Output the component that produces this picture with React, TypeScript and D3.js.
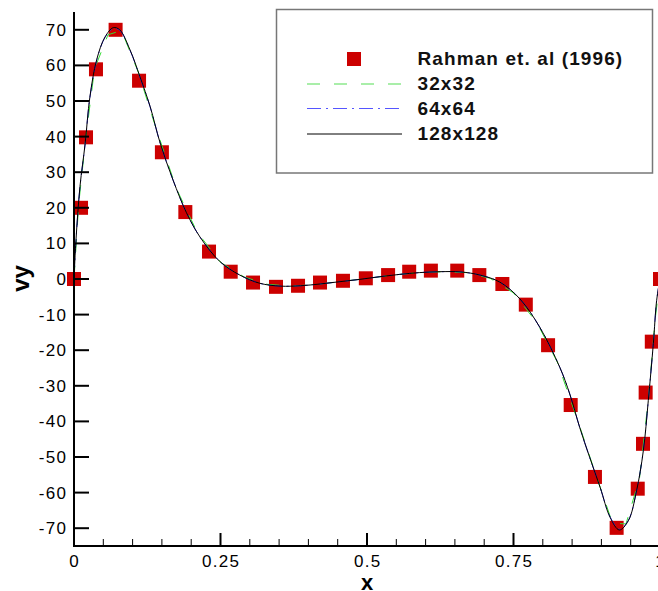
import React from "react";
import * as d3 from "d3";

// Reference data: Rahman et. al (1996)
const refX = [0, 0.012, 0.0205, 0.0375, 0.071, 0.111, 0.15, 0.19, 0.2304, 0.2674, 0.3055, 0.3447, 0.3823, 0.4198, 0.459, 0.498, 0.536, 0.572, 0.609, 0.654, 0.6917, 0.731, 0.771, 0.809, 0.8476, 0.889, 0.926, 0.962, 0.971, 0.9755, 0.986, 1.0];
const refY = [0, 20, 39.8, 58.9, 70, 55.7, 35.6, 18.8, 7.7, 2.05, -1.0, -2.2, -1.9, -1.0, -0.5, 0.2, 1.1, 2.05, 2.35, 2.35, 1.1, -1.4, -7.2, -18.6, -35.4, -55.6, -69.9, -58.9, -46.3, -31.9, -17.6, 0];

// 32x32
const g32X = [0, 0.008, 0.02, 0.035, 0.058, 0.081, 0.11, 0.14, 0.175, 0.21, 0.25, 0.29, 0.33, 0.37, 0.41, 0.45, 0.5, 0.55, 0.59, 0.63, 0.67, 0.71, 0.75, 0.79, 0.825, 0.86, 0.89, 0.919, 0.942, 0.965, 0.98, 0.992, 1];
const g32Y = [0, 21, 39.5, 59, 68.6, 69.8, 58, 42.3, 25.3, 13.2, 4.7, 0.6, -1.5, -2.0, -1.6, -0.8, 0.15, 1.2, 1.8, 2.05, 1.8, 0.2, -3.9, -12.3, -23.4, -40, -54.7, -68.6, -68.8, -56, -34, -11, 0];

// 64x64
const g64X = [0, 0.0034, 0.0102, 0.019, 0.027, 0.0387, 0.053, 0.067, 0.078, 0.0955, 0.1126, 0.13, 0.147, 0.169, 0.192, 0.215, 0.249, 0.283, 0.317, 0.352, 0.386, 0.42, 0.454, 0.488, 0.522, 0.556, 0.59, 0.6246, 0.659, 0.693, 0.727, 0.761, 0.795, 0.829, 0.846, 0.863, 0.88, 0.898, 0.915, 0.9306, 0.946, 0.96, 0.9716, 0.98, 0.9886, 0.9943, 1];
const g64Y = [0, 10.8, 25.8, 37.9, 50.8, 61.4, 67.9, 70.4, 69.9, 64.3, 56.7, 48.3, 38.2, 27.8, 18.6, 11.8, 4.9, 1.1, -1.2, -2.0, -1.9, -1.4, -0.75, -0.1, 0.65, 1.3, 1.8, 2.05, 2.0, 1.1, -0.9, -5.6, -13.6, -24.8, -32.3, -41.7, -50.1, -58.6, -66.9, -70.3, -67.8, -59.5, -48.2, -34.2, -18.2, -6, 0];

// 128x128
const g128X = [0, 0.0034, 0.0102, 0.019, 0.027, 0.0387, 0.053, 0.067, 0.078, 0.0955, 0.1126, 0.13, 0.147, 0.169, 0.192, 0.215, 0.249, 0.283, 0.317, 0.352, 0.386, 0.42, 0.454, 0.488, 0.522, 0.556, 0.59, 0.6246, 0.659, 0.693, 0.727, 0.761, 0.795, 0.829, 0.846, 0.863, 0.88, 0.898, 0.915, 0.9306, 0.946, 0.96, 0.9716, 0.98, 0.9886, 0.9943, 1];
const g128Y = [0, 11, 26, 38, 51, 61.6, 68, 70.6, 70, 64.4, 56.8, 48.4, 38.2, 27.8, 18.6, 11.8, 4.9, 1.1, -1.2, -2.0, -1.9, -1.4, -0.75, -0.1, 0.65, 1.3, 1.8, 2.05, 2.0, 1.1, -0.9, -5.6, -13.6, -24.8, -32.3, -41.7, -50.1, -58.6, -67, -70.5, -67.9, -59.5, -48.2, -34.2, -18.2, -6, 0];

const yTicks = [-70, -60, -50, -40, -30, -20, -10, 0, 10, 20, 30, 40, 50, 60, 70];
const xMajorTicks = [0, 0.25, 0.5, 0.75, 1];
const xMajorLabels = ["0", "0.25", "0.5", "0.75", "1"];
const xMinorTicks = [0.05, 0.1, 0.15, 0.2, 0.3, 0.35, 0.4, 0.45, 0.55, 0.6, 0.65, 0.7, 0.8, 0.85, 0.9, 0.95];

const legendLabels = ["Rahman et. al (1996)", "32x32", "64x64", "128x128"];

const FONT = "'Liberation Sans', Arial, Helvetica, sans-serif";

export default function App() {
  const W = 658, H = 591;
  const x = d3.scaleLinear().domain([0, 1]).range([74, 660]);
  const y = d3.scaleLinear().domain([-75, 75]).range([546, 12]);

  const zip = (xs: number[], ys: number[]) => xs.map((v, i) => [v, ys[i]] as [number, number]);
  const smooth = d3.line<[number, number]>().x(d => x(d[0])).y(d => y(d[1])).curve(d3.curveCatmullRom.alpha(0.5));
  const linear = d3.line<[number, number]>().x(d => x(d[0])).y(d => y(d[1]));

  const ms = 14;
  const axisX0 = x(0);
  const axisY0 = y(-75);
  const ls = 1.3;

  return (
    <svg width={W} height={H} style={{ position: "absolute", left: 0, top: 0, background: "#fff" }} fontFamily={FONT}>
      <rect x={0} y={0} width={W} height={H} fill="#fff" />
      {/* markers */}
      {refX.map((v, i) => (
        <rect key={"m" + i} x={x(v) - ms / 2} y={y(refY[i]) - ms / 2} width={ms} height={ms} fill="#cc0000" />
      ))}
      {/* curves */}
      <path d={linear(zip(g32X, g32Y)) || ""} fill="none" stroke="#33dd33" strokeWidth={1} strokeDasharray="13,14" />
      <path d={smooth(zip(g64X, g64Y)) || ""} fill="none" stroke="#3333ff" strokeWidth={1} strokeDasharray="14,5,2,5" />
      <path d={smooth(zip(g128X, g128Y)) || ""} fill="none" stroke="#000" strokeWidth={1} />

      {/* y axis */}
      <line x1={axisX0} x2={axisX0} y1={y(75)} y2={axisY0 + 1} stroke="#000" strokeWidth={2} />
      {yTicks.map(t => (
        <g key={"yt" + t}>
          <line x1={axisX0} x2={axisX0 + 15} y1={y(t)} y2={y(t)} stroke="#000" strokeWidth={2} />
          <text x={66 + ls} y={y(t) + 6} textAnchor="end" fontSize={17} letterSpacing={ls} fill="#000">{t}</text>
        </g>
      ))}
      {/* x axis */}
      <line x1={axisX0 - 1} x2={W} y1={axisY0} y2={axisY0} stroke="#000" strokeWidth={2} />
      {xMinorTicks.map(t => (
        <line key={"xm" + t} x1={x(t)} x2={x(t)} y1={axisY0} y2={axisY0 - 7} stroke="#000" strokeWidth={1} />
      ))}
      {xMajorTicks.map((t, i) => (
        <g key={"xt" + t}>
          <line x1={x(t)} x2={x(t)} y1={axisY0} y2={axisY0 - 13} stroke="#000" strokeWidth={2} />
          <text x={x(t) + ls / 2} y={566.5} textAnchor="middle" fontSize={17} letterSpacing={ls} fill="#000">{xMajorLabels[i]}</text>
        </g>
      ))}
      {/* axis titles */}
      <text x={x(0.5)} y={589.5} textAnchor="middle" fontSize={22} fontWeight="bold" fill="#000">x</text>
      <text transform="translate(29,278.5) rotate(-90)" textAnchor="middle" fontSize={24} fontWeight="bold" fill="#000">vy</text>

      {/* legend */}
      <rect x={276.5} y={9.5} width={376} height={163.5} fill="#fff" stroke="#777" strokeWidth={1.5} />
      <rect x={354 - ms / 2} y={59 - ms / 2} width={ms} height={ms} fill="#cc0000" />
      <line x1={307} x2={402} y1={84} y2={84} stroke="#55dd55" strokeWidth={1.2} strokeDasharray="13,14" />
      <line x1={307} x2={402} y1={108.5} y2={108.5} stroke="#5555ff" strokeWidth={1.2} strokeDasharray="14,5,2,5" />
      <line x1={307} x2={402} y1={134} y2={134} stroke="#000" strokeWidth={1} />
      {legendLabels.map((l, i) => (
        <text key={l} x={417.5} y={65 + i * 25} fontSize={19} letterSpacing={1.1} fontWeight="bold" fill="#111">{l}</text>
      ))}
    </svg>
  );
}
